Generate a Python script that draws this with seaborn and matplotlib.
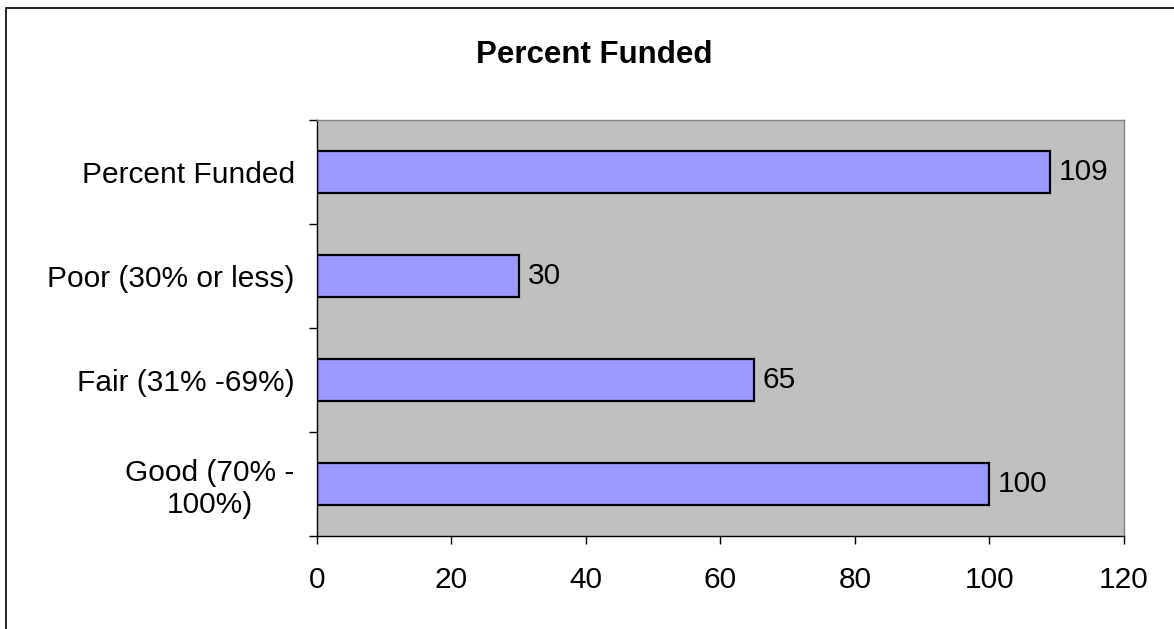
import matplotlib
matplotlib.use("Agg")
import matplotlib.pyplot as plt
from matplotlib.patches import Rectangle
import seaborn as sns
import pandas as pd

categories = ["Percent Funded", "Poor (30% or less)", "Fair (31% -69%)", "Good (70% -\n100%)"]
values = [109, 30, 65, 100]
x_ticks = [0, 20, 40, 60, 80, 100, 120]

sns.set_style("white")
plt.rcParams["font.family"] = ["Liberation Sans", "DejaVu Sans"]
plt.rcParams["text.color"] = "black"
plt.rcParams["xtick.color"] = "black"
plt.rcParams["ytick.color"] = "black"

FS = 21.5

df = pd.DataFrame({"category": categories, "value": values})

fig = plt.figure(figsize=(11.74, 6.29), dpi=100)
ax = fig.add_axes([0.270, 0.148, 0.6874, 0.6612])

sns.barplot(data=df, x="value", y="category", order=categories, orient="h",
            color="#9999FF", saturation=1, width=0.4, edgecolor="black",
            linewidth=1.6, ax=ax)

ax.set_facecolor("#C0C0C0")
ax.set_xlim(0, 120)
ax.set_ylim(len(categories) - 0.5, -0.5)
ax.set_xticks(x_ticks)
ax.set_xticklabels([str(t) for t in x_ticks], fontsize=FS)
ax.set_xlabel("")
ax.set_ylabel("")

# category labels, multi-line ones centred on themselves
ax.set_yticks(range(len(categories)))
ax.set_yticklabels(categories, fontsize=FS)
for lbl in ax.get_yticklabels():
    lbl.set_multialignment("center")
ax.tick_params(axis="y", which="major", left=True, length=0, pad=16)
ax.set_yticks([i - 0.5 for i in range(len(categories) + 1)], minor=True)
ax.tick_params(axis="y", which="minor", left=True, length=6, width=1,
               color="black", direction="out")
ax.tick_params(axis="x", which="major", bottom=True, length=6, width=1,
               color="black", direction="out", pad=16)

for side in ["left", "bottom"]:
    ax.spines[side].set_color("black")
    ax.spines[side].set_linewidth(1.0)
for side in ["top", "right"]:
    ax.spines[side].set_color("#808080")
    ax.spines[side].set_linewidth(1.0)

for i, v in enumerate(values):
    ax.text(v + 1.3, i, str(v), va="center", ha="left", fontsize=FS)

fig.text(0.506, 0.912, "Percent Funded", ha="center", va="center",
         fontsize=22.5, fontweight="bold")

# chart-area frame; right and bottom edges run off the canvas
fig.patches.append(Rectangle((0.0055, -0.1), 1.2, 1.088, transform=fig.transFigure,
                             fill=False, edgecolor="black", linewidth=1.2))

fig.savefig("out.png", dpi=100)
